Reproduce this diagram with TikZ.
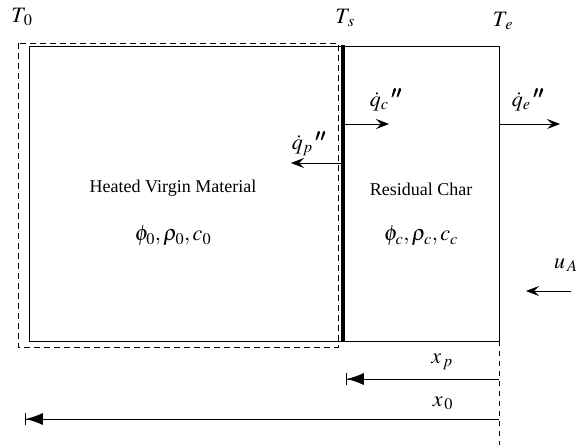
\documentclass[tikz,border=0pt]{standalone}
\usepackage{mathptmx}
\usepackage{bm}
\usepackage{fontspec}
\setmainfont{Liberation Serif}
\usetikzlibrary{arrows.meta}
\begin{document}
\begin{tikzpicture}[x=1pt,y=-1pt,
  thin line/.style={line width=0.8pt},
  heat arrow/.style={thin line,-{Stealth[length=13pt,width=10pt,inset=5pt]}},
  dim arrow/.style={thin line,{Bar[width=12pt,line width=0.8pt]Latex[length=17pt,width=12pt]}-},
  dashline/.style={line width=0.7pt,dash pattern=on 6pt off 4pt},
  lbl/.style={inner sep=0pt,font=\fontsize{18}{20}\selectfont},
  mlbl/.style={inner sep=0pt,font=\fontsize{22}{26}\selectfont}]
\useasboundingbox (0,0) rectangle (577,445);
% dashed outline of virgin material
\draw[dashline] (18,43) rectangle (338,347);
% solid rectangles
\coordinate (vtl) at (29,46);
\coordinate (vbr) at (343,341);
\draw[thin line] (vtl) rectangle (vbr);
\coordinate (ctl) at (343,46);
\coordinate (cbr) at (499,341);
\draw[thin line] (ctl) rectangle (cbr);
% char front (thick)
\coordinate (st) at (343,45);
\coordinate (sb) at (343,342);
\draw[line width=3.5pt] (st) -- (sb);
% right dashed extension
\coordinate (eb) at (499,445);
\draw[dashline,dash pattern=on 5pt off 5pt] (cbr) -- (eb);
% temperature labels
\node[mlbl] (T0) at (22,17) {$T_{\,0}$};
\node[mlbl] (Ts) at (345,18) {$T_{\,s}$};
\node[mlbl] (Te) at (503,21) {$T_{\,e}$};
% heat flux arrows
\coordinate (qc0) at (343,124); \coordinate (qc1) at (389,124);
\draw[heat arrow] (qc0) -- (qc1);
\coordinate (qe0) at (499,124); \coordinate (qe1) at (560,124);
\draw[heat arrow] (qe0) -- (qe1);
\coordinate (qp0) at (343,163); \coordinate (qp1) at (291,163);
\draw[heat arrow] (qp0) -- (qp1);
\node[mlbl] (qc) at (386,100) {$\dot q_c\,^{\bm{\prime\prime}}$};
\node[mlbl] (qe) at (528,100) {$\dot q_e\,^{\bm{\prime\prime}}$};
\node[mlbl] (qp) at (309,144) {$\dot q_p\,^{\bm{\prime\prime}}$};
% region texts
\node[lbl] (hv) at (173,188) {Heated Virgin Material};
\node[mlbl] (p0) at (173,236) {$\phi_0,\rho_0,c_0$};
\node[lbl] (rc) at (421,189) {Residual Char};
\node[mlbl] (pc) at (421,236) {$\phi_c,\rho_c,c_c$};
% gas velocity
\node[mlbl,anchor=west] (uA) at (554,265) {$u_{\,A}$};
\coordinate (u0) at (571,291); \coordinate (u1) at (526,291);
\draw[heat arrow] (u0) -- (u1);
% dimension arrows
\coordinate (xp0) at (499,379); \coordinate (xp1) at (346,379);
\draw[dim arrow] (xp1) -- (xp0);
\coordinate (x00) at (499,419); \coordinate (x01) at (25,419);
\draw[dim arrow] (x01) -- (x00);
\node[mlbl] (xp) at (442,362) {$x_{\,p}$};
\node[mlbl] (x0) at (443,403) {$x_{\,0}$};
\end{tikzpicture}
\end{document}
